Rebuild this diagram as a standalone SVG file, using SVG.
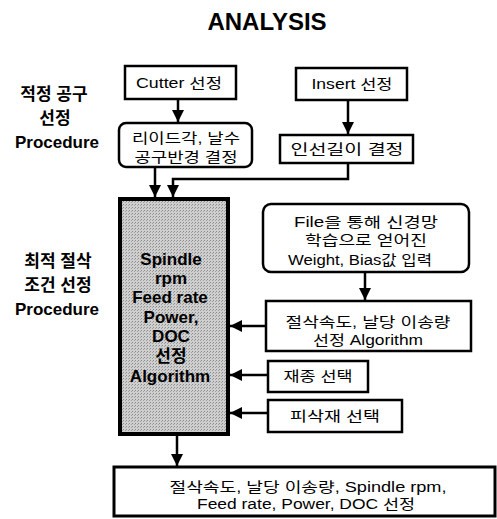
<svg xmlns="http://www.w3.org/2000/svg" width="497" height="519" viewBox="0 0 497 519">
<defs>
<marker id="ah" markerUnits="userSpaceOnUse" markerWidth="12" markerHeight="12" viewBox="0 0 12 12" refX="12" refY="6" orient="auto">
<path d="M0,0 L12,6 L0,12 z" fill="#000"/>
</marker>
<pattern id="dots" width="3" height="3" patternUnits="userSpaceOnUse">
<rect width="3" height="3" fill="#cfcfcf"/>
<rect width="1" height="1" fill="#8a8a8a"/>
<rect x="2" y="1" width="1" height="1" fill="#a0a0a0"/>
</pattern>
</defs>
<style>
.t{font-family:"Liberation Sans","Noto Sans CJK KR",sans-serif;font-size:14px;fill:#000;text-anchor:middle}
.b{font-family:"Liberation Sans","Noto Sans CJK KR",sans-serif;font-size:17px;font-weight:bold;fill:#000;text-anchor:middle}
.box{fill:#fff;stroke:#000;stroke-width:2.5}
.c{fill:none;stroke:#000;stroke-width:2.5}
</style>
<text x="267" y="30" class="b" style="font-size:24px">ANALYSIS</text>
<g id="label-tool">
<text x="54" y="100" class="b">적정 공구</text>
<text x="55" y="124" class="b">선정</text>
<text x="57" y="148" class="b">Procedure</text>
</g>
<g id="label-cond">
<text x="58" y="267" class="b">최적 절삭</text>
<text x="58" y="291" class="b">조건 선정</text>
<text x="57" y="315" class="b">Procedure</text>
</g>
<g id="cutter">
<rect x="125" y="66" width="111" height="33" class="box"/>
<text x="179" y="88" class="t" textLength="86" lengthAdjust="spacingAndGlyphs">Cutter 선정</text>
</g>
<g id="insert">
<rect x="296" y="68" width="111" height="32" class="box"/>
<text x="352" y="89" class="t" textLength="81" lengthAdjust="spacingAndGlyphs">Insert 선정</text>
</g>
<g id="lead">
<rect x="119" y="123" width="133" height="44" rx="7" class="box"/>
<text x="186" y="143" class="t" textLength="108" lengthAdjust="spacingAndGlyphs">리이드각, 날수</text>
<text x="186" y="162" class="t" textLength="103" lengthAdjust="spacingAndGlyphs">공구반경 결정</text>
</g>
<g id="edge-len">
<rect x="280" y="135" width="133" height="28" class="box"/>
<text x="347" y="154" class="t" textLength="113" lengthAdjust="spacingAndGlyphs">인선길이 결정</text>
</g>
<g id="main">
<rect x="120" y="199" width="108" height="235" fill="url(#dots)" stroke="#000" stroke-width="4"/>
<text x="171" y="265" class="b">Spindle</text>
<text x="171" y="284" class="b">rpm</text>
<text x="170" y="303" class="b">Feed rate</text>
<text x="171" y="323" class="b">Power,</text>
<text x="171" y="342" class="b">DOC</text>
<text x="171" y="362" class="b">선정</text>
<text x="170" y="382" class="b">Algorithm</text>
</g>
<g id="file">
<rect x="263" y="204" width="206" height="68" rx="8" class="box"/>
<text x="366" y="227" class="t" textLength="144" lengthAdjust="spacingAndGlyphs">File을 통해 신경망</text>
<text x="366" y="245" class="t" textLength="122" lengthAdjust="spacingAndGlyphs">학습으로 얻어진</text>
<text x="360" y="265" class="t" textLength="144" lengthAdjust="spacingAndGlyphs">Weight, Bias값 입력</text>
</g>
<g id="speed">
<rect x="266" y="301" width="205" height="50" class="box"/>
<text x="368" y="327" class="t" textLength="165" lengthAdjust="spacingAndGlyphs">절삭속도, 날당 이송량</text>
<text x="368" y="345" class="t" textLength="110" lengthAdjust="spacingAndGlyphs">선정 Algorithm</text>
</g>
<g id="grade">
<rect x="268" y="361" width="100" height="31" class="box"/>
<text x="318" y="381" class="t" textLength="69" lengthAdjust="spacingAndGlyphs">재종 선택</text>
</g>
<g id="material">
<rect x="268" y="400" width="134" height="32" class="box"/>
<text x="335" y="421" class="t" textLength="90" lengthAdjust="spacingAndGlyphs">피삭재 선택</text>
</g>
<g id="result">
<rect x="114" y="467" width="381" height="49" fill="#fff" stroke="#000" stroke-width="3"/>
<text x="308" y="492" class="t" textLength="277" lengthAdjust="spacingAndGlyphs">절삭속도, 날당 이송량, Spindle rpm,</text>
<text x="306" y="509" class="t" textLength="218" lengthAdjust="spacingAndGlyphs">Feed rate, Power, DOC 선정</text>
</g>
<g id="connectors">
<path d="M178,100 V122" class="c" marker-end="url(#ah)"/>
<path d="M348,101 V134" class="c" marker-end="url(#ah)"/>
<path d="M155,168 V197" class="c" marker-end="url(#ah)"/>
<path d="M348,164 V179 H173 V197" class="c" marker-end="url(#ah)"/>
<path d="M365,273 V300" class="c" marker-end="url(#ah)"/>
<path d="M265,326 H230" class="c" marker-end="url(#ah)"/>
<path d="M267,375 H230" class="c" marker-end="url(#ah)"/>
<path d="M267,413 H230" class="c" marker-end="url(#ah)"/>
<path d="M177,436 V466" class="c" marker-end="url(#ah)"/>
</g>
</svg>
